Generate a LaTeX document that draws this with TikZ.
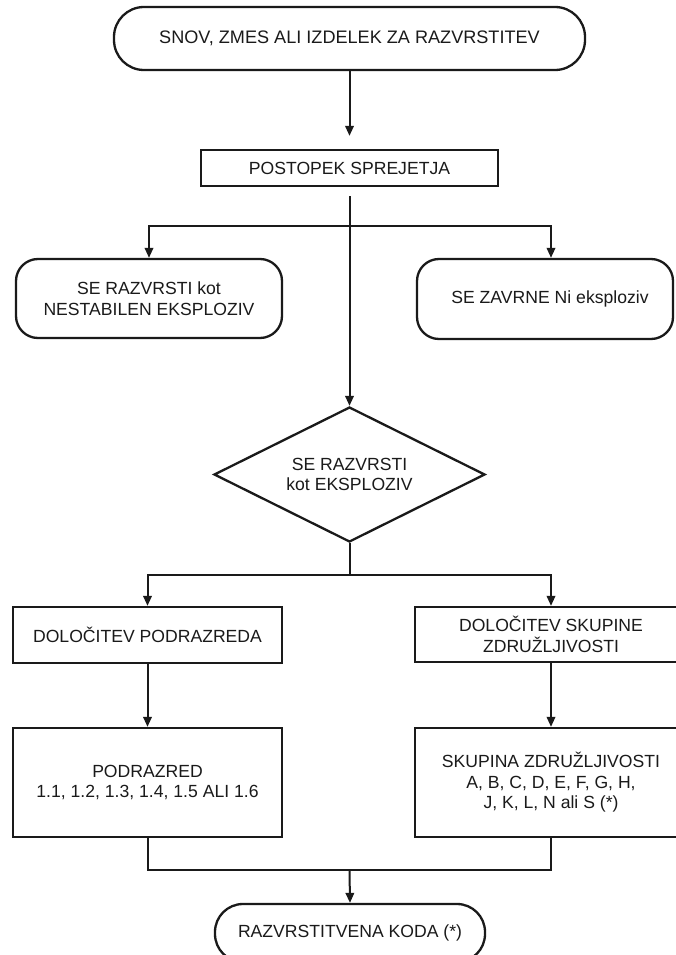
\documentclass[tikz,border=0pt]{standalone}
\usepackage{fontspec}
\setmainfont{Liberation Sans}
\usetikzlibrary{arrows.meta,shapes.geometric}
\definecolor{ink}{HTML}{1A1A1A}
\begin{document}
\begin{tikzpicture}[x=1pt,y=-1pt,
  every node/.style={text=ink, font=\fontsize{17.6}{20.5}\selectfont, align=center, inner sep=0pt},
  boxline/.style={draw=ink, line width=2.3pt},
  term/.style={boxline, rounded corners=30pt},
  rbox/.style={boxline, rounded corners=22pt},
  rect/.style={boxline},
  dec/.style={boxline, shape=diamond, aspect=2},
  ln/.style={draw=ink, line width=2pt},
  arr/.style={ln, -{Triangle[length=10pt,width=8.5pt]}}
]
\useasboundingbox (0,0) rectangle (675,955);
\fill[white] (0,0) rectangle (675,955);

% nodes
\node[term, minimum width=471pt, minimum height=63pt, font=\fontsize{18.1}{21}\selectfont] (t1) at (349.5,38.5) {SNOV, ZMES ALI IZDELEK ZA RAZVRSTITEV};
\node[rect, minimum width=297pt, minimum height=36pt] (p1) at (349.5,168) {POSTOPEK SPREJETJA};
\node[rbox, minimum width=266pt, minimum height=79pt] (l1) at (149,298.5) {SE RAZVRSTI kot\\NESTABILEN EKSPLOZIV};
\node[rbox, minimum width=256pt, minimum height=80pt] (r1) at (545,299) {\hspace*{10pt}SE ZAVRNE Ni eksploziv};
\node[dec, minimum width=271pt, minimum height=135pt] (d1) at (349.5,474.5) {SE RAZVRSTI\\kot EKSPLOZIV};
\node[rect, minimum width=269pt, minimum height=56pt] (l2) at (147.5,635) {DOLOČITEV PODRAZREDA};
\node[rect, minimum width=272pt, minimum height=55pt] (r2) at (551,634.5) {DOLOČITEV SKUPINE\\ZDRUŽLJIVOSTI};
\node[rect, minimum width=269pt, minimum height=109pt] (l3) at (147.5,782.5) {PODRAZRED\\1.1, 1.2, 1.3, 1.4, 1.5 ALI 1.6};
\node[rect, minimum width=272pt, minimum height=109pt] (r3) at (551,782.5) {SKUPINA ZDRUŽLJIVOSTI\\A, B, C, D, E, F, G, H,\\J, K, L, N ali S (*)};
\node[term, rounded corners=28pt, minimum width=270pt, minimum height=58pt] (t2) at (350,933) {RAZVRSTITVENA KODA (*)};

% junctions
\coordinate (j1) at (349.5,226);
\coordinate (j2) at (349.5,575);
\coordinate (j3) at (349.5,870);

% connectors
\draw[arr, shorten >=13pt] (t1.south) -- (p1.north);
\draw[arr, shorten <=9pt] (p1.south) -- (d1.north);
\draw[arr] (j1) -| (l1.north);
\draw[arr] (j1) -| ([xshift=6pt]r1.north);
\draw[ln] (d1.south) -- (j2);
\draw[arr] (j2) -| (l2.north);
\draw[arr] (j2) -| (r2.north);
\draw[arr] (l2.south) -- (l3.north);
\draw[arr] (r2.south) -- (r3.north);
\draw[ln] (l3.south) |- (j3);
\draw[ln] (r3.south) |- (j3);
\draw[arr] (j3) -- (t2.north);
\end{tikzpicture}
\end{document}
